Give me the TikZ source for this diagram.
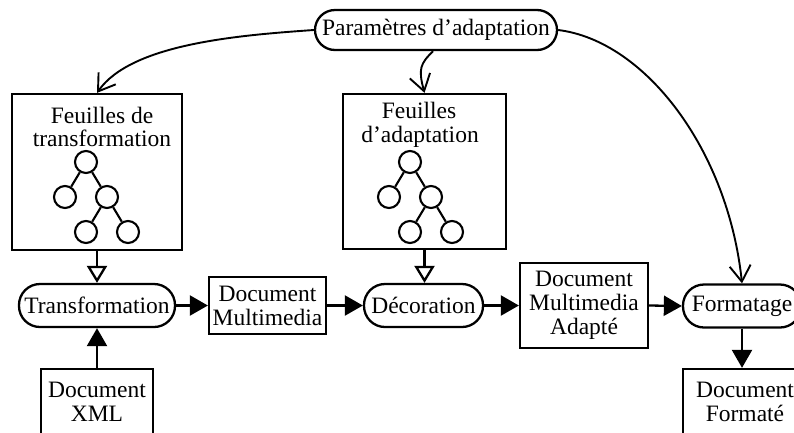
\documentclass[tikz,border=0pt]{standalone}
\usepackage{fontspec}
\setmainfont{Liberation Serif}
\usetikzlibrary{arrows.meta}

\begin{document}
\begin{tikzpicture}[x=1pt,y=1pt,
  every node/.style={font=\fontsize{23.5}{24}\selectfont, inner sep=0pt, align=center},
  box/.style={draw, line width=2.3pt, rectangle},
  proc/.style={draw, line width=2.3pt, rectangle, rounded corners=21pt, minimum height=43pt},
  leaf/.style={draw, circle, line width=2.1pt, minimum size=22pt},
  flow/.style={line width=2.3pt, -{Triangle[length=18pt,width=20pt]}},
  sheet/.style={line width=2.3pt, -{Triangle[open,length=17pt,width=20pt]}},
  param/.style={line width=1.9pt, -{Straight Barb[length=16pt,width=21pt]}},
  branch/.style={line width=2.1pt}
]
\useasboundingbox (0,0) rectangle (794,-432);

% adaptation parameters
\node[proc, minimum width=242pt, minimum height=40pt, rounded corners=20pt] (params) at (436,-30) {Paramètres d’adaptation};

% transformation sheets
\node[box, minimum width=170pt, minimum height=156pt] (fT) at (97,-172) {};
\node[anchor=base] (fT1) at (102,-123) {Feuilles de};
\node[anchor=base] (fT2) at (102,-146) {transformation};
\node[leaf] (tr) at (86,-162) {};
\node[leaf] (tl1) at (65,-197) {};
\node[leaf] (tr1) at (107,-197) {};
\node[leaf] (tl2) at (86,-232) {};
\node[leaf] (tr2) at (128,-232) {};
\draw[branch] (tr) -- (tl1);
\draw[branch] (tr) -- (tr1);
\draw[branch] (tr1) -- (tl2);
\draw[branch] (tr1) -- (tr2);

% adaptation sheets
\node[box, minimum width=163pt, minimum height=155pt] (fA) at (424.5,-171.5) {};
\node[anchor=base] (fA1) at (419,-118) {Feuilles};
\node[anchor=base] (fA2) at (420,-142) {d’adaptation};
\node[leaf] (ar) at (410,-162) {};
\node[leaf] (al1) at (389,-197) {};
\node[leaf] (ar1) at (431,-197) {};
\node[leaf] (al2) at (410,-232) {};
\node[leaf] (ar2) at (452,-232) {};
\draw[branch] (ar) -- (al1);
\draw[branch] (ar) -- (ar1);
\draw[branch] (ar1) -- (al2);
\draw[branch] (ar1) -- (ar2);

% processing chain
\node[proc, minimum width=156pt] (transf) at (97,-305.5) {Transformation};
\node[box, minimum width=117pt, minimum height=57pt] (docmm) at (267.5,-305.5) {Document\\Multimedia};
\node[proc, minimum width=119pt] (deco) at (423.5,-305.5) {Décoration};
\node[box, minimum width=128pt, minimum height=85pt] (adapte) at (584,-305.5) {Document\\Multimedia\\Adapté};
\node[proc, minimum width=118pt] (format) at (742,-306) {Formatage};
\node[box, minimum width=112pt, minimum height=66pt] (xml) at (97,-402) {Document\\XML};
\node[box, minimum width=124pt, minimum height=66pt] (formate) at (745,-402) {Document\\Formaté};

% connectors
\draw[sheet] (fT.south) -- (transf.north);
\draw[sheet] (fA.south) -- (fA.south |- deco.north);
\draw[flow] (xml.north) -- (transf.south);
\draw[flow] (transf.east) -- (docmm.west);
\draw[flow] (docmm.east) -- (deco.west);
\draw[flow] (deco.east) -- (adapte.west);
\draw[flow] (adapte.east) -- (format.west);
\draw[flow] (format.south) -- (format.south |- formate.north);

\draw[param] (params.west) .. controls +(184:75) and +(55:60) .. (fT.north);
\draw[param] ([xshift=-3pt]params.south) .. controls +(-135:18) and +(105:25) .. (fA.north);
\draw[param] (params.east) .. controls +(-7:87) and +(96:135) .. (format.north);
\end{tikzpicture}
\end{document}
